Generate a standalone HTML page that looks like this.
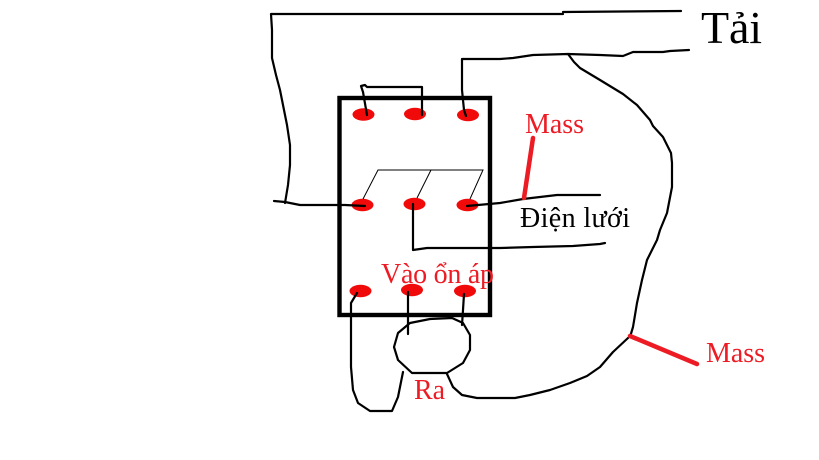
<!DOCTYPE html>
<html><head><meta charset="utf-8"><style>
html,body{margin:0;padding:0;background:#fff}
svg{display:block}
text{font-family:"Liberation Serif","Noto Serif CJK SC",serif}
.w{fill:none;stroke:#000;stroke-width:2.2;stroke-linejoin:round;stroke-linecap:round}
.t{fill:none;stroke:#000;stroke-width:1}
.r{fill:#ed1c24;font-size:28px}
.d{fill:#f00a0a}
</style></head><body>
<svg width="819" height="460" viewBox="0 0 819 460" xmlns="http://www.w3.org/2000/svg">
<rect x="339.500" y="98" width="150.500" height="217" fill="none" stroke="#000" stroke-width="4.400"/>
<ellipse class="d" cx="363.500" cy="114.500" rx="11" ry="6.200"/>
<ellipse class="d" cx="415" cy="114" rx="11" ry="6.200"/>
<ellipse class="d" cx="468" cy="115" rx="11" ry="6.200"/>
<ellipse class="d" cx="362.500" cy="205" rx="11" ry="6.200"/>
<ellipse class="d" cx="414.500" cy="204" rx="11" ry="6.200"/>
<ellipse class="d" cx="467.500" cy="205" rx="11" ry="6.200"/>
<ellipse class="d" cx="360.500" cy="291" rx="11" ry="6.200"/>
<ellipse class="d" cx="412" cy="290" rx="11" ry="6.200"/>
<ellipse class="d" cx="465" cy="291" rx="11" ry="6.200"/>
<path class="w" d="M563 14H271L272 30V58L276 75L280 90L283 105L287 125L290 145V165L288 185L285 203"/>
<path class="w" d="M563 12L681 11"/>
<path class="w" d="M274 201L285 202L300 205H345L365 206"/>
<path class="w" d="M367 115L363 92L361 86L365 85L367 87H422V115"/>
<path class="w" d="M466 116L464 110L462 90V59H500L513 58L533 55L568 54L600 55L623 56L633 52L663 52L670 51L689 50"/>
<path class="w" d="M568 54L574 62L580 68L600 80L623 94L637 105L650 120L653 126L663 137L671 153L672 163L672 187L667 213L660 230L657 240L647 260L642 280L637 303L633 327L630 337"/>
<path class="w" d="M628 338L613 352L600 367L587 376L570 383L550 390L530 395L515 398L477 398L462 395L453 387L447 374"/>
<path class="w" d="M467 206L500 203L523 199L557 195H600"/>
<path class="w" d="M413 204V250L427 248L500 248L533 247L573 246L600 244L605 243"/>
<path class="w" d="M357 293L351 303V367L353 390L358 403L370 411H392L398 397L403 372"/>
<path class="w" d="M408 292L408 334"/>
<path class="w" d="M464 294L463 310L462 325"/>
<path class="w" d="M452 318L430 319L410 323L398 333L394 347L398 360L412 373H447L463 363L470 350L470 335L463 323L452 318"/>
<path class="t" d="M363 199L378 170H483L470 199M431 170L417 198"/>
<path d="M533 138L524 198" fill="none" stroke="#ed1c24" stroke-width="4.500" stroke-linecap="round"/>
<path d="M630 336L697 364" fill="none" stroke="#ed1c24" stroke-width="4.500" stroke-linecap="round"/>
<text x="701" y="43" font-size="46" fill="#000" textLength="61">Tải</text>
<text x="525" y="133" class="r" textLength="59">Mass</text>
<text x="706" y="362" class="r" textLength="59">Mass</text>
<text x="520" y="227" font-size="28" fill="#000" textLength="110">Điện lưới</text>
<text x="381" y="283" class="r" textLength="113">Vào ổn áp</text>
<text x="414" y="399" class="r" textLength="31">Ra</text>
</svg>
</body></html>
